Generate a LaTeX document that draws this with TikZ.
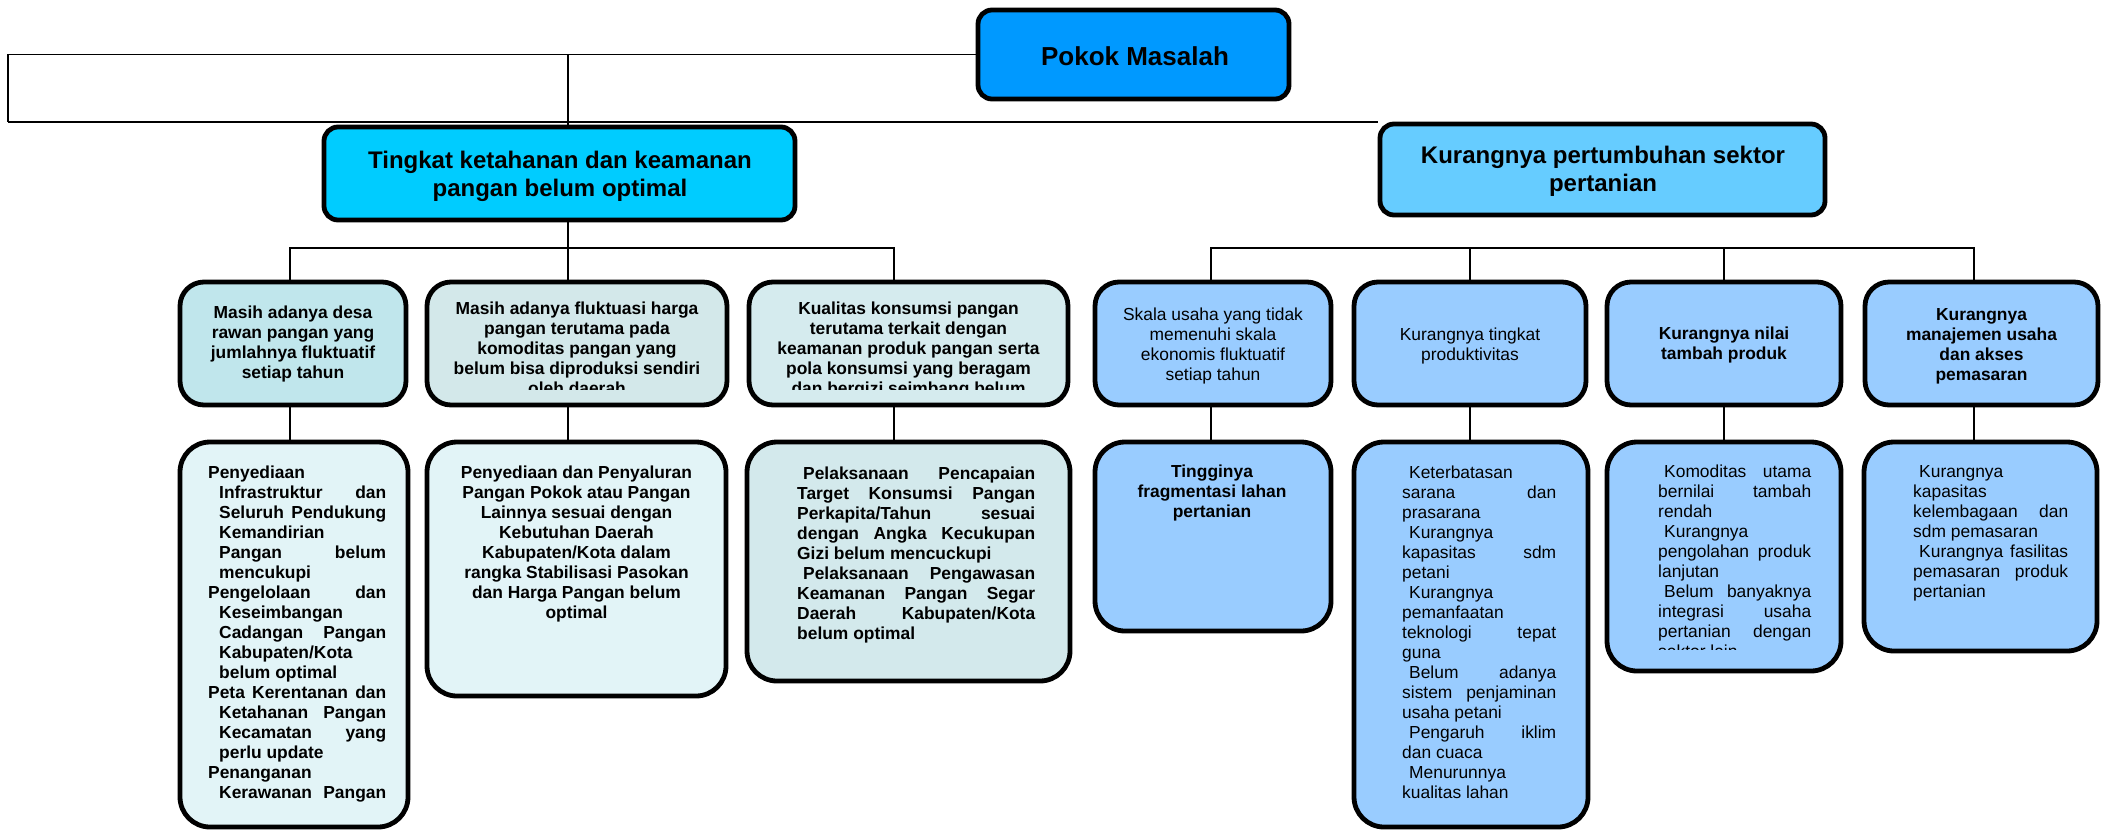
\documentclass[tikz,border=0pt]{standalone}
\usepackage{fontspec}
\setmainfont{Liberation Sans}
\definecolor{cPokok}{HTML}{0099FF}
\definecolor{cTing}{HTML}{00CCFF}
\definecolor{cKur}{HTML}{66CCFF}
\definecolor{cRight}{HTML}{99CCFF}
\definecolor{cLa}{HTML}{C0E6EC}
\definecolor{cLb}{HTML}{D3E8EA}
\definecolor{cLc}{HTML}{D5EBEE}
\definecolor{cLd}{HTML}{E2F4F7}
\definecolor{cLe}{HTML}{D3E9EC}
\newcommand{\fs}{\fontsize{17.4}{20}\selectfont}
\newcommand{\jb}[2]{\makebox[#1pt][s]{#2}}
\begin{document}
\begin{tikzpicture}[x=1pt,y=-1pt,
  boxbase/.style={draw=black, line width=4.8pt, inner sep=0pt},
  topbox/.style={boxbase, rounded corners=14pt},
  midbox/.style={boxbase, rounded corners=24pt},
  lowbox/.style={boxbase, rounded corners=30pt},
  txt/.style={inner sep=0pt, font=\fs\bfseries},
  txtr/.style={inner sep=0pt, font=\fs},
  conn/.style={draw=black, line width=1.3pt},
  connb/.style={draw=black, line width=2.2pt}]
\useasboundingbox (0,0) rectangle (2109,831);
\fill[white] (0,0) rectangle (2109,831);

% top level
\node[topbox, fill=cPokok, minimum width=311pt, minimum height=89pt] (pokok) at (1133.5,54.5) {};
\node[inner sep=0pt, font=\fontsize{26}{30}\selectfont\bfseries] (tpokok) at (1135,56) {Pokok Masalah};
\node[topbox, fill=cTing, minimum width=471pt, minimum height=93pt] (ting) at (559.5,173.5) {};
\node[inner sep=0pt, align=center, font=\fontsize{24}{28}\selectfont\bfseries] (tting) at (560,176) {Tingkat ketahanan dan keamanan\\pangan belum optimal};
\node[topbox, fill=cKur, minimum width=445pt, minimum height=91pt] (kur) at (1602.5,169.5) {};
\node[inner sep=0pt, align=center, font=\fontsize{24}{28}\selectfont\bfseries] (tkur) at (1603,171) {Kurangnya pertumbuhan sektor\\pertanian};

% row 2 left
\node[midbox, fill=cLa, minimum width=226pt, minimum height=123pt] (r2a) at (293,343.5) {};
\node[midbox, fill=cLb, minimum width=300pt, minimum height=123pt] (r2b) at (577,343.5) {};
\node[midbox, fill=cLc, minimum width=319pt, minimum height=123pt] (r2c) at (908.5,343.5) {};
% row 2 right
\node[midbox, fill=cRight, minimum width=236pt, minimum height=123pt] (rb1) at (1213,343.5) {};
\node[midbox, fill=cRight, minimum width=232pt, minimum height=123pt] (rb2) at (1470,343.5) {};
\node[midbox, fill=cRight, minimum width=234pt, minimum height=123pt] (rb3) at (1724,343.5) {};
\node[midbox, fill=cRight, minimum width=233pt, minimum height=123pt] (rb4) at (1981.5,343.5) {};
% row 3 left
\node[lowbox, fill=cLd, minimum width=228pt, minimum height=385pt] (r3a) at (294,634.5) {};
\node[lowbox, fill=cLd, minimum width=299pt, minimum height=254pt] (r3b) at (576.5,569) {};
\node[lowbox, fill=cLe, minimum width=323pt, minimum height=239pt] (r3c) at (908.5,561.5) {};
% row 3 right
\node[lowbox, fill=cRight, minimum width=236pt, minimum height=189pt] (rc1) at (1213,536.5) {};
\node[lowbox, fill=cRight, minimum width=234pt, minimum height=385pt] (rc2) at (1471,634.5) {};
\node[lowbox, fill=cRight, minimum width=234pt, minimum height=229pt] (rc3) at (1724,556.5) {};
\node[lowbox, fill=cRight, minimum width=233pt, minimum height=209pt] (rc4) at (1980.5,546.5) {};

% connectors top
\coordinate (tl) at (8,54.5);
\coordinate (bl) at (8,122);
\coordinate (tj) at (568,54.5);
\draw[conn] (pokok.west) -- (tl) -- (bl);
\draw[connb] (bl) -- (bl -| kur.west);
\draw[conn] (tj) -- (tj |- ting.north);
% left bus
\coordinate (L1) at (290,248);
\coordinate (L2) at (568,248);
\coordinate (L3) at (894,248);
\draw[conn] (L1 |- r2a.north) -- (L1) -- (L3) -- (L3 |- r2c.north);
\draw[conn] (L2 |- ting.south) -- (L2 |- r2b.north);
\draw[conn] (L1 |- r2a.south) -- (L1 |- r3a.north);
\draw[conn] (L2 |- r2b.south) -- (L2 |- r3b.north);
\draw[conn] (L3 |- r2c.south) -- (L3 |- r3c.north);
% right bus
\coordinate (R1) at (1211,248);
\coordinate (R2) at (1470,248);
\coordinate (R3) at (1724,248);
\coordinate (R4) at (1974,248);
\draw[conn] (R1 |- rb1.north) -- (R1) -- (R4) -- (R4 |- rb4.north);
\draw[conn] (R2) -- (R2 |- rb2.north);
\draw[conn] (R3) -- (R3 |- rb3.north);
\draw[conn] (R1 |- rb1.south) -- (R1 |- rc1.north);
\draw[conn] (R2 |- rb2.south) -- (R2 |- rc2.north);
\draw[conn] (R3 |- rb3.south) -- (R3 |- rc3.north);
\draw[conn] (R4 |- rb4.south) -- (R4 |- rc4.north);

% row 2 left texts
\node[txt, align=center] (t2a) at (293,344) {Masih adanya desa\\rawan pangan yang\\jumlahnya fluktuatif\\setiap tahun};
\begin{scope}
\clip (420,290) rectangle (1080,389);
\node[txt, align=center, anchor=north] (t2b) at (577,302) {Masih adanya fluktuasi harga\\pangan terutama pada\\komoditas pangan yang\\belum bisa diproduksi sendiri\\oleh daerah};
\node[txt, align=center, anchor=north] (t2c) at (908.5,302) {Kualitas konsumsi pangan\\terutama terkait dengan\\keamanan produk pangan serta\\pola konsumsi yang beragam\\dan bergizi seimbang belum};
\end{scope}

% row 2 right texts
\node[txtr, align=center] (tb1) at (1213,346) {Skala usaha yang tidak\\memenuhi skala\\ekonomis fluktuatif\\setiap tahun};
\node[txtr, align=center] (tb2) at (1470,346) {Kurangnya tingkat\\produktivitas};
\node[txt, align=center] (tb3) at (1724,345) {Kurangnya nilai\\tambah produk};
\node[txt, align=center] (tb4) at (1981.5,346) {Kurangnya\\manajemen usaha\\dan akses\\pemasaran};

% row 3 left texts
\node[txt, align=left, anchor=north west] (t3a) at (208,466) {%
Penyediaan\\
\hspace*{11pt}\jb{167}{Infrastruktur dan}\\
\hspace*{11pt}\jb{167}{Seluruh Pendukung}\\
\hspace*{11pt}Kemandirian\\
\hspace*{11pt}\jb{167}{Pangan belum}\\
\hspace*{11pt}mencukupi\\
\jb{178}{Pengelolaan dan}\\
\hspace*{11pt}Keseimbangan\\
\hspace*{11pt}\jb{167}{Cadangan Pangan}\\
\hspace*{11pt}Kabupaten/Kota\\
\hspace*{11pt}belum optimal\\
\jb{178}{Peta Kerentanan dan}\\
\hspace*{11pt}\jb{167}{Ketahanan Pangan}\\
\hspace*{11pt}\jb{167}{Kecamatan yang}\\
\hspace*{11pt}perlu update\\
Penanganan\\
\hspace*{11pt}\jb{167}{Kerawanan Pangan}};
\node[txt, align=center, anchor=north] (t3b) at (576.5,466) {Penyediaan dan Penyaluran\\Pangan Pokok atau Pangan\\Lainnya sesuai dengan\\Kebutuhan Daerah\\Kabupaten/Kota dalam\\rangka Stabilisasi Pasokan\\dan Harga Pangan belum\\optimal};
\node[txt, align=left, anchor=north west] (t3c) at (797,467) {%
\hspace*{6pt}\jb{232}{Pelaksanaan Pencapaian}\\
\jb{238}{Target Konsumsi Pangan}\\
\jb{238}{Perkapita/Tahun sesuai}\\
\jb{238}{dengan Angka Kecukupan}\\
Gizi belum mencuckupi\\
\hspace*{6pt}\jb{232}{Pelaksanaan Pengawasan}\\
\jb{238}{Keamanan Pangan Segar}\\
\jb{238}{Daerah Kabupaten/Kota}\\
belum optimal};

% row 3 right texts
\node[txt, align=center, anchor=north] (tc1) at (1212,465) {Tingginya\\fragmentasi lahan\\pertanian};
\node[txtr, align=left, anchor=north west] (tc2) at (1402,466) {%
\hspace*{7pt}Keterbatasan\\
\jb{154}{sarana dan}\\
prasarana\\
\hspace*{7pt}Kurangnya\\
\jb{154}{kapasitas sdm}\\
petani\\
\hspace*{7pt}Kurangnya\\
pemanfaatan\\
\jb{154}{teknologi tepat}\\
guna\\
\hspace*{7pt}\jb{147}{Belum adanya}\\
\jb{154}{sistem penjaminan}\\
usaha petani\\
\hspace*{7pt}\jb{147}{Pengaruh iklim}\\
dan cuaca\\
\hspace*{7pt}Menurunnya\\
kualitas lahan};
\begin{scope}
\clip (1620,450) rectangle (1830,649);
\node[txtr, align=left, anchor=north west] (tc3) at (1658,465) {%
\hspace*{6pt}\jb{147}{Komoditas utama}\\
\jb{153}{bernilai tambah}\\
rendah\\
\hspace*{6pt}Kurangnya\\
\jb{153}{pengolahan produk}\\
lanjutan\\
\hspace*{6pt}\jb{147}{Belum banyaknya}\\
\jb{153}{integrasi usaha}\\
\jb{153}{pertanian dengan}\\
sektor lain};
\end{scope}
\node[txtr, align=left, anchor=north west] (tc4) at (1913,465) {%
\hspace*{6pt}Kurangnya\\
kapasitas\\
\jb{155}{kelembagaan dan}\\
sdm pemasaran\\
\hspace*{6pt}\jb{149}{Kurangnya fasilitas}\\
\jb{155}{pemasaran produk}\\
pertanian};
\end{tikzpicture}
\end{document}
